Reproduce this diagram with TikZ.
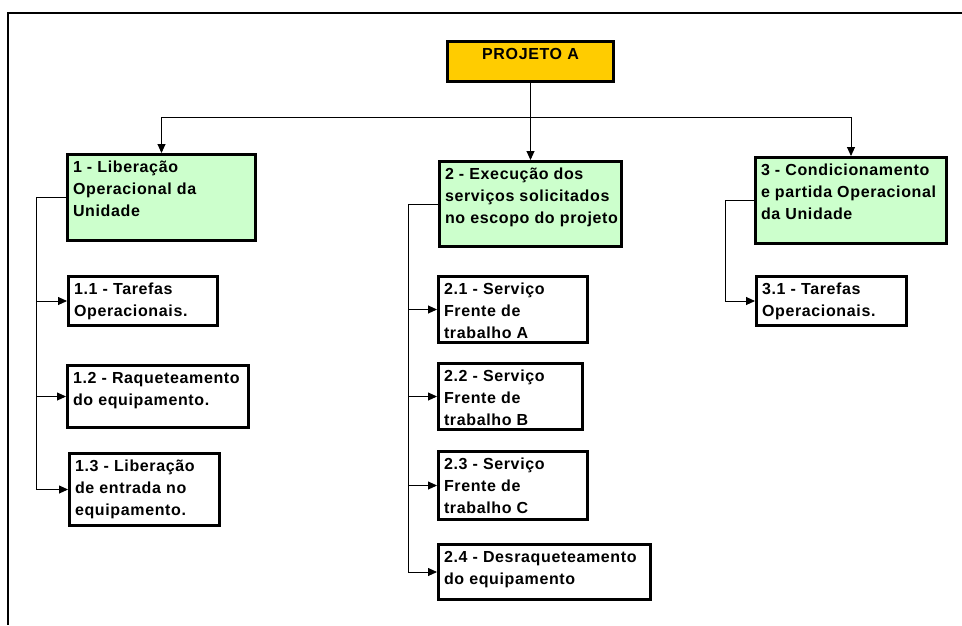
\documentclass[tikz,border=0pt]{standalone}
\usepackage{fontspec}
\setmainfont[LetterSpace=4]{Liberation Sans}
\usepackage{tikz}
\usetikzlibrary{arrows.meta}
\definecolor{verde}{HTML}{CCFFCC}
\definecolor{amarelo}{HTML}{FFCC00}
\tikzset{
  caixa/.style={draw, line width=3pt, anchor=north west, inner xsep=5.5pt, inner ysep=3pt,
    font=\fontsize{16}{22}\selectfont\bfseries},
  seta/.style={-{Triangle[length=9pt,width=8pt]}, line width=0.9pt}
}
\newcommand{\celula}[3]{\parbox[t][#2][t]{#1}{\begin{tabular}[t]{@{}l@{}}#3\end{tabular}}}

\begin{document}
\begin{tikzpicture}[x=1pt,y=-1pt]
\useasboundingbox (0,0) rectangle (962,625);
\draw[line width=2pt] (962,13) -- (8,13) -- (8,625);
% topo
\node[caixa, fill=amarelo] (proj) at (446,40) {\parbox[t][34pt][t]{155pt}{\centering\strut PROJETO A}};
% nivel 1
\node[caixa, fill=verde] (b1) at (66,153) {\celula{177pt}{80pt}{1 - Liberação\\Operacional da\\Unidade}};
\node[caixa, fill=verde] (b2) at (438,160) {\celula{171pt}{79pt}{2 - Execução dos\\serviços solicitados\\no escopo do projeto}};
\node[caixa, fill=verde] (b3) at (754,156) {\celula{180pt}{80pt}{3 - Condicionamento\\e partida Operacional\\da Unidade}};
% nivel 2
\node[caixa] (c11) at (67,275) {\celula{138pt}{43pt}{1.1 - Tarefas\\Operacionais.}};
\node[caixa] (c12) at (66,364) {\celula{170pt}{56pt}{1.2 - Raqueteamento\\do equipamento.}};
\node[caixa] (c13) at (68,452) {\celula{139pt}{66pt}{1.3 - Liberação\\de entrada no\\equipamento.}};
\node[caixa] (c21) at (437,275) {\celula{138pt}{60pt}{2.1 - Serviço\\Frente de\\trabalho A}};
\node[caixa] (c22) at (437,362) {\celula{133pt}{60pt}{2.2 - Serviço\\Frente de\\trabalho B}};
\node[caixa] (c23) at (437,450) {\celula{138pt}{62pt}{2.3 - Serviço\\Frente de\\trabalho C}};
\node[caixa] (c24) at (437,543) {\celula{201pt}{49pt}{2.4 - Desraqueteamento\\do equipamento}};
\node[caixa] (c31) at (755,275) {\celula{139pt}{43pt}{3.1 - Tarefas\\Operacionais.}};
% ligacoes
\draw[seta] (proj.south) -- ++(0,34) -| (b1.north);
\draw[seta] (proj.south) -- (b2.north);
\draw[seta] (proj.south) -- ++(0,34) -| (b3.north);
\foreach \c in {c11,c12,c13}
  \draw[seta] (b1.west) -- ++(-30,0) |- (\c.west);
\foreach \c in {c21,c22,c23,c24}
  \draw[seta] (b2.west) -- ++(-30,0) |- (\c.west);
\draw[seta] (b3.west) -- ++(-29,0) |- (c31.west);
\end{tikzpicture}
\end{document}
